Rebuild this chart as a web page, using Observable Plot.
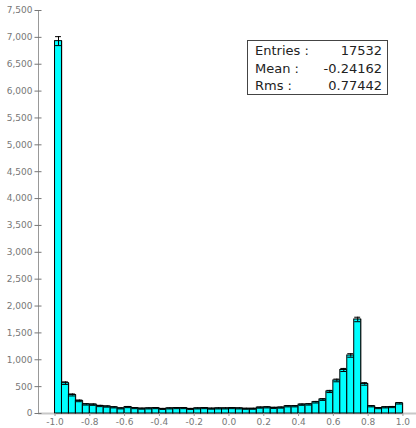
<!DOCTYPE html>
<html>
<head>
<meta charset="utf-8">
<script src="https://cdn.jsdelivr.net/npm/d3@7"></script>
<script src="https://cdn.jsdelivr.net/npm/@observablehq/plot@0.6"></script>
<style>
  body { margin: 0; background: #fff; }
  #wrap { position: relative; width: 416px; height: 428px; }
  #stats {
    position: absolute; left: 247px; top: 40px; width: 141px; height: 55px;
    box-sizing: border-box; border: 1px solid #444; background: #fff;
    padding: 1px 5px 0 7px; font: 13px "DejaVu Sans", sans-serif; color: #222;
  }
  #stats .row { display: flex; justify-content: space-between; line-height: 17.5px; white-space: pre; }
</style>
</head>
<body>
<div id="wrap"></div>
<script>
// Histogram range and per-bin entries
const binLo = -1.0;
const binHi = 1.0;
const counts = [
  6930, 565, 345, 235, 170, 165, 140, 130, 115, 95,
  120, 100, 90, 95, 100, 85, 95, 100, 100, 85,
  95, 100, 90, 95, 95, 100, 95, 88, 88, 110,
  115, 105, 110, 135, 135, 165, 170, 210, 260, 410,
  615, 810, 1080, 1750, 550, 135, 100, 115, 120, 190
];

// Axis ticks
const xTicks = [-1.0, -0.8, -0.6, -0.4, -0.2, 0.0, 0.2, 0.4, 0.6, 0.8, 1.0];
const yTicks = [0, 500, 1000, 1500, 2000, 2500, 3000, 3500, 4000, 4500, 5000, 5500, 6000, 6500, 7000, 7500];

// Statistics box
const statNames = ["Entries :", "Mean :", "Rms :"];
const statValues = ["17532", "-0.24162", "0.77442"];

const xDomain = [-1.095, 1.078];
const nb = counts.length;
const bw = (binHi - binLo) / nb;
const bins = counts.map((n, i) => ({
  x1: binLo + i * bw,
  x2: binLo + (i + 1) * bw,
  xc: binLo + (i + 0.5) * bw,
  n,
  lo: n - Math.sqrt(n),
  hi: n + Math.sqrt(n)
}));
const capHalf = 0.017;

const chart = Plot.plot({
  width: 416,
  height: 428,
  marginLeft: 38,
  marginRight: 0,
  marginTop: 10,
  marginBottom: 15,
  style: { fontFamily: "DejaVu Sans, sans-serif", fontSize: "9px", color: "#666", background: "#fff" },
  x: { domain: xDomain },
  y: { domain: [0, 7500] },
  marks: [
    // axis lines
    Plot.ruleY([0], { stroke: "#c8c8c8", strokeWidth: 2 }),
    Plot.ruleX([xDomain[0]], { y1: 0, y2: 7500, stroke: "#999" }),
    // bar shadow
    Plot.rectY(bins, { x1: "x1", x2: "x2", y1: 0, y2: "n", fill: "#c4c4c4", dx: 1.2 }),
    // bars
    Plot.rectY(bins, { x1: "x1", x2: "x2", y1: 0, y2: "n", fill: "#00ffff", stroke: "#000", strokeWidth: 1 }),
    // error bars
    Plot.ruleX(bins, { x: "xc", y1: "lo", y2: "hi", stroke: "#000", strokeWidth: 1 }),
    Plot.ruleY(bins, { y: "hi", x1: d => d.xc - capHalf, x2: d => d.xc + capHalf, stroke: "#000", strokeWidth: 1 }),
    Plot.ruleY(bins, { y: "lo", x1: d => d.xc - capHalf, x2: d => d.xc + capHalf, stroke: "#000", strokeWidth: 1 }),
    // y axis: ticks crossing the axis line, labels on the left
    Plot.axisY(yTicks, { tickSize: 7, dx: 3.5, stroke: "#777", tickFormat: () => "" }),
    Plot.axisY(yTicks, { tickSize: 0, tickPadding: 6, tickFormat: d3.format(","), fill: "#777" }),
    // x axis
    Plot.axisX(xTicks, { tickSize: 3, tickPadding: 2, stroke: "#999", fill: "#777", tickFormat: d => d.toFixed(1) })
  ]
});

const wrap = document.getElementById("wrap");
wrap.appendChild(chart);

const box = document.createElement("div");
box.id = "stats";
statNames.forEach((name, i) => {
  const row = document.createElement("div");
  row.className = "row";
  const a = document.createElement("span");
  a.textContent = name;
  const b = document.createElement("span");
  b.textContent = statValues[i];
  row.appendChild(a);
  row.appendChild(b);
  box.appendChild(row);
});
wrap.appendChild(box);
</script>
</body>
</html>
